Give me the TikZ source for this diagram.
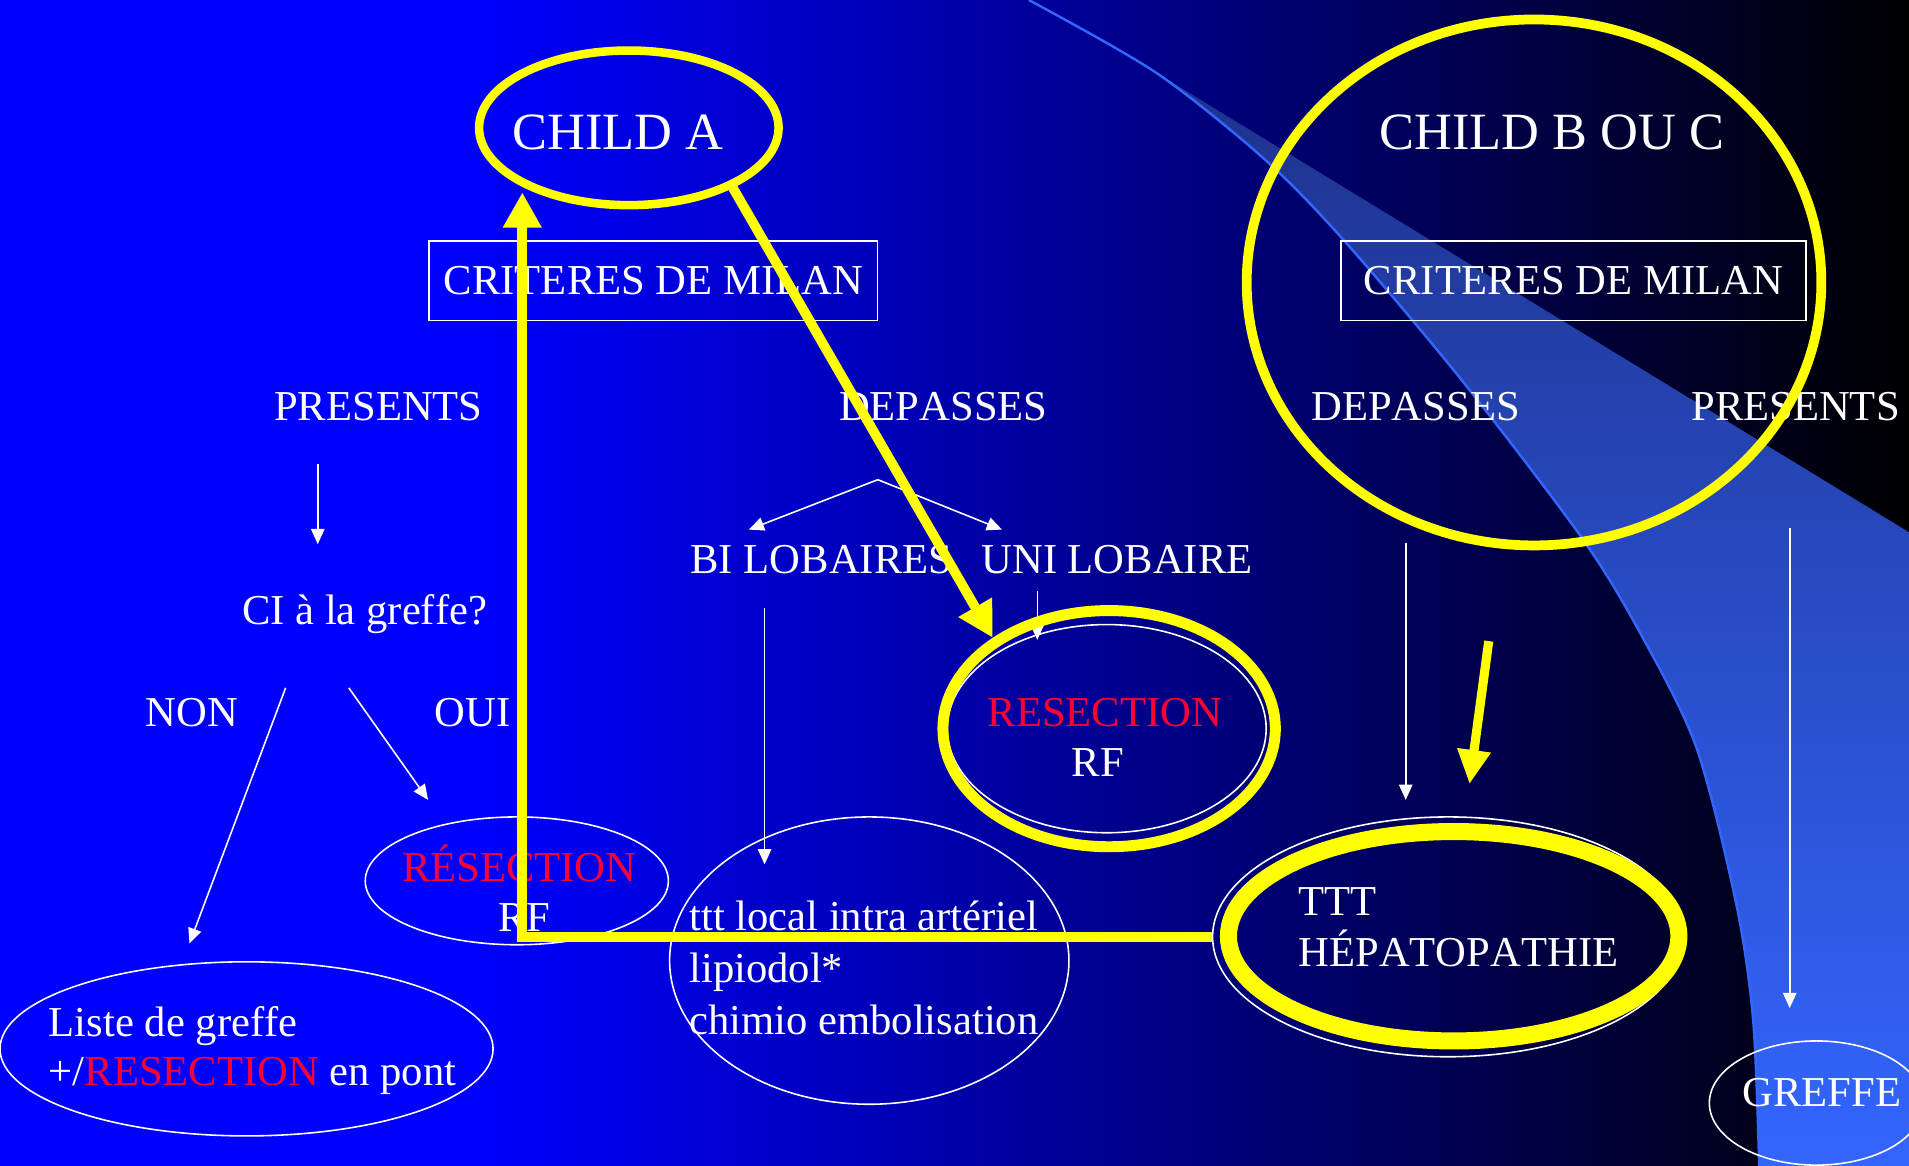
\documentclass[tikz,border=0pt]{standalone}
\usepackage{fontspec}
\setmainfont{Liberation Serif}[Kerning=Off]
\usetikzlibrary{positioning,shapes.geometric,arrows.meta}
\definecolor{slideblue}{RGB}{0,0,255}
\definecolor{slidemid}{RGB}{0,0,145}
\definecolor{slideyellow}{RGB}{255,255,0}
\definecolor{resecred}{RGB}{255,0,51}
\definecolor{swooshblue}{RGB}{51,102,255}
\definecolor{swooshdark}{RGB}{30,50,140}

\begin{document}
\begin{tikzpicture}[x=1pt, y=-1pt,
    >={Triangle[length=12.5pt,width=11pt]},
    ovalnode/.style={ellipse, draw=white, line width=1.3pt, inner sep=0pt},
    yellowoval/.style={ellipse, draw=slideyellow, line width=8pt, inner sep=0pt},
    squarednode/.style={rectangle, draw=white, line width=1.5pt, inner sep=0pt, minimum width=368pt, minimum height=65pt},
    bigtext/.style={font=\fontsize{43}{50}\selectfont},
    thinarrow/.style={->, white, line width=1.3pt},
    yellowarrow/.style={-{Triangle[length=29pt,width=30pt]}, slideyellow, line width=8pt},
    ]
    \tikzstyle{every node}=[font=\fontsize{35}{42}\selectfont, text=white, inner sep=0pt]
    %Background
    \useasboundingbox (0,0) rectangle (1568,957);
    \clip (-3,-3) rectangle (1571,960);
    \fill[slideblue] (-3,-3) rectangle (391,960);
    \shade[left color=slideblue, middle color=slidemid, right color=black] (390,-3) rectangle (1571,960);
    \shade[top color=swooshdark, middle color=swooshblue, bottom color=swooshblue] (950,60) -- (1571,439) -- (1571,960) -- plot[smooth] coordinates {(1445,960) (1440,838) (1426,742) (1393,613) (1345,516) (1298,440) (1202,314) (1107,201) (1040,132) (950,60)} -- cycle;
    \draw[swooshblue, line width=2pt] plot[smooth] coordinates {(845,0) (950,60) (1040,132) (1107,201) (1202,314) (1298,440) (1345,516) (1393,613) (1426,742) (1440,838) (1445,960)};

    %Nodes
    \node[bigtext, anchor=base west] (childAtxt) at (420.6,123.2) {CHILD A};
    \node[bigtext, anchor=base west] (childBCtxt) at (1133,122.6) {CHILD B OU C};
    \node[squarednode] (milanA) at (536.7,230.7) {CRITERES DE MILAN};
    \node[squarednode, minimum width=381.6pt] (milanBC) at (1292.4,230.7) {CRITERES DE MILAN};
    \node[anchor=base west] (presA) at (225,345) {PRESENTS};
    \node[anchor=base west] (depA) at (689,345) {DEPASSES};
    \node[anchor=base west] (depBC) at (1077,345) {DEPASSES};
    \node[anchor=base west] (presBC) at (1389,345) {PRESENTS};
    \node[anchor=base west] (ci) at (198.8,513) {CI à la greffe?};
    \node[anchor=base west] (non) at (119.3,597) {NON};
    \node[anchor=base west] (oui) at (357,597) {OUI};
    \node[anchor=base west] (bilob) at (567,471) {BI LOBAIRES};
    \node[anchor=base west] (unilob) at (806,471) {UNI LOBAIRE};
    \node[ovalnode, minimum width=249pt, minimum height=105pt] (resA) at (424.5,723.5) {};
    \node[anchor=base west, text=resecred] (resAtxt) at (330,724) {RÉSECTION};
    \node[anchor=base west] (rfA) at (409,765) {RF};
    \node[ovalnode, minimum width=405pt, minimum height=143pt] (liste) at (202.5,861.5) {};
    \node[anchor=base west] (listetxt) at (40,851) {Liste de greffe};
    \node[below=41pt of listetxt.base west, anchor=base west] (ponttxt) {+/\textcolor{resecred}{RESECTION} en pont};
    \node[ovalnode, minimum width=328pt, minimum height=236pt] (local) at (714,789) {};
    \node[anchor=base west] (localtxt) at (566,764) {ttt local intra artériel};
    \node[below=43pt of localtxt.base west, anchor=base west] (lipio) {lipiodol*};
    \node[below=43pt of lipio.base west, anchor=base west] (chimio) {chimio embolisation};
    \node[ovalnode, minimum width=262pt, minimum height=171pt] (resB) at (909,598.5) {};
    \node[anchor=base west, text=resecred] (resBtxt) at (811,597) {RESECTION};
    \node[anchor=base west] (rfB) at (880,638) {RF};
    \node[ovalnode, minimum width=387pt, minimum height=197pt] (hepa) at (1189.5,769.5) {};
    \node[anchor=base west] (ttt) at (1066.5,752) {TTT};
    \node[below=42pt of ttt.base west, anchor=base west] (hepatxt) {HÉPATOPATHIE};
    \node[ovalnode, minimum width=176pt, minimum height=102pt] (greffe) at (1492,906) {};
    \node[anchor=base west] (greffetxt) at (1431,909) {GREFFE};
    \coordinate (presA-top) at (261,381); % arrow ends
    \coordinate (presA-tip) at (261,447);
    \coordinate (fork) at (721,394);
    \coordinate (forkL) at (615,435);
    \coordinate (forkR) at (823,435);
    \coordinate (non-top) at (234.6,565);
    \coordinate (non-tip) at (155.6,775);
    \coordinate (oui-top) at (286.5,565);
    \coordinate (oui-tip) at (351.6,657);
    \coordinate (bilob-top) at (628,499);
    \coordinate (bilob-tip) at (628,710);
    \coordinate (unilob-top) at (852,485.5);
    \coordinate (unilob-tip) at (852,525.6);
    \coordinate (depBC-top) at (1154.6,446);
    \coordinate (depBC-tip) at (1154.6,657);
    \coordinate (presBC-top) at (1470,434);
    \coordinate (presBC-tip) at (1470,828);

    %Lines
    \draw[thinarrow] (presA-top) -- (presA-tip);
    \draw[thinarrow] (fork) -- (forkL);
    \draw[thinarrow] (fork) -- (forkR);
    \draw[thinarrow] (non-top) -- (non-tip);
    \draw[thinarrow] (oui-top) -- (oui-tip);
    \draw[thinarrow] (bilob-top) -- (bilob-tip);
    \draw[thinarrow] (unilob-top) -- (unilob-tip);
    \draw[thinarrow] (depBC-top) -- (depBC-tip);
    \draw[thinarrow] (presBC-top) -- (presBC-tip);

    %Yellow marks
    \node[yellowoval, line width=7pt, minimum width=246pt, minimum height=127pt] (childA) at (516.5,105) {};
    \node[yellowoval, minimum width=472pt, minimum height=432pt] (childBC) at (1260,232) {};
    \node[yellowoval, line width=9pt, minimum width=273pt, minimum height=194pt] (resBy) at (911,598.5) {};
    \node[yellowoval, line width=14pt, minimum width=370pt, minimum height=172pt] (hepay) at (1194,769) {};
    \coordinate (childA-foot) at (429,158); % invisible end
    \coordinate (ybc-top) at (1222.8,526.6);
    \coordinate (ybc-tip) at (1207,644);
    \draw[yellowarrow] (hepa.west) -| (childA-foot);
    \draw[yellowarrow] (childA.-30.7) -- (resBy.142.2);
    \draw[yellowarrow, line width=7.5pt, -{Triangle[length=28pt,width=26pt]}] (ybc-top) -- (ybc-tip);
\end{tikzpicture}
\end{document}
